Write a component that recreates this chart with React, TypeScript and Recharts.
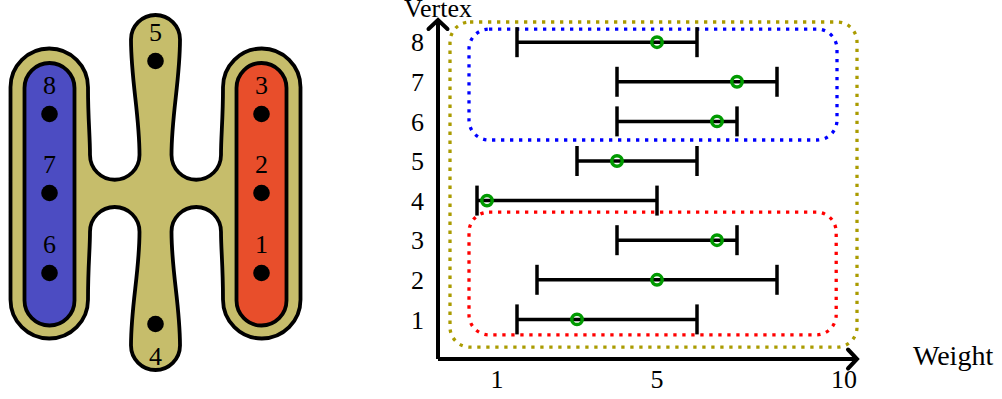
import React from 'react';
import { ScatterChart, Scatter, XAxis, YAxis, ErrorBar, ReferenceArea } from 'recharts';

// ---------- right panel data ----------
const vertices = [1, 2, 3, 4, 5, 6, 7, 8];
const weightVals = [3, 5, 6.5, 0.75, 4, 6.5, 7, 5];
const lowVals = [1.5, 2, 4, 0.5, 3, 4, 4, 1.5];
const highVals = [6, 8, 7, 5, 6, 7, 8, 6];
const xTicks = [1, 5, 10];
const yTicks = [1, 2, 3, 4, 5, 6, 7, 8];
// groups (hyperedges) drawn as dotted boxes: [xFrom, xTo, yFrom, yTo]
const groupAll = [-0.175, 10, 0.3, 8.51];
const groupBlue = [0.3, 9.5, 5.53, 8.33];
const groupRed = [0.3, 9.48, 0.61, 3.71];

// ---------- left panel (hypergraph drawing) data ----------
const vertexIds = [1, 2, 3, 4, 5, 6, 7, 8];
const vertexX = [261.5, 261.5, 261.5, 155.5, 155.5, 49.5, 49.5, 49.5];
const vertexY = [273, 193, 114, 324, 61, 273, 193, 114];

const FONT = '"Liberation Serif", "Times New Roman", serif';

const rows = vertices.map((v, i) => ({
  vertex: v,
  weight: weightVals[i],
  err: [weightVals[i] - lowVals[i], highVals[i] - weightVals[i]],
}));

const nodes = vertexIds.map((id, i) => ({ id, x: vertexX[i], y: vertexY[i] }));

const LEFT_W = 310;
const LEFT_H = 399;

const H_PATH =
  'M 10.5 87.25 A 38.75 38.75 0 0 1 88 87.25 C 88 120 90 135 90 155 ' +
  'A 24.75 24.75 0 0 0 139.5 155 C 139.5 115 131 80 131 39.5 ' +
  'A 24.5 24.5 0 0 1 180 39.5 C 180 80 171.5 115 171.5 155 ' +
  'A 24.75 24.75 0 0 0 221 155 C 221 135 223 120 223 87.25 ' +
  'A 38.75 38.75 0 0 1 300.5 87.25 L 300.5 299.75 ' +
  'A 38.75 38.75 0 0 1 223 299.75 C 223 265 221 250 221 231.75 ' +
  'A 24.75 24.75 0 0 0 171.5 231.75 C 171.5 272 180 305 180 345.5 ' +
  'A 24.5 24.5 0 0 1 131 345.5 C 131 305 139.5 272 139.5 231.75 ' +
  'A 24.75 24.75 0 0 0 90 231.75 C 90 250 88 265 88 299.75 ' +
  'A 38.75 38.75 0 0 1 10.5 299.75 Z';

const HShape = (props: any) => {
  const { x, y, width, height } = props;
  const sx = width / LEFT_W;
  const sy = height / LEFT_H;
  return (
    <g transform={`translate(${x},${y}) scale(${sx},${sy})`}>
      <path d={H_PATH} fill="#c6bd6b" stroke="#000" strokeWidth={3.8} />
    </g>
  );
};

const capsule = (fill: string) => (props: any) => {
  const { x, y, width, height } = props;
  return (
    <rect x={x} y={y} width={width} height={height} rx={width / 2} ry={width / 2}
      fill={fill} stroke="#000" strokeWidth={3.8} />
  );
};

const NodeShape = (props: any) => {
  const { cx, cy, payload } = props;
  const below = payload.id === 4;
  return (
    <g>
      <circle cx={cx} cy={cy} r={8.3} fill="#000" />
      <text x={cx} y={below ? cy + 41 : cy - 20} textAnchor="middle"
        style={{ fontFamily: FONT, fontSize: 26 }} fill="#000">
        {payload.id}
      </text>
    </g>
  );
};

const dottedBox = (color: string) => (props: any) => {
  const { x, y, width, height } = props;
  return (
    <rect x={x} y={y} width={width} height={height} rx={20} ry={20}
      fill="none" stroke={color} strokeWidth={3.3} strokeDasharray="3.3 5.7" />
  );
};

const GreenRing = (props: any) => {
  const { cx, cy } = props;
  return <circle cx={cx} cy={cy} r={5.2} fill="none" stroke="#009a00" strokeWidth={3.5} />;
};

const XTick = (props: any) => {
  const { x, y, payload } = props;
  return (
    <text x={x} y={y} dy="0.71em" textAnchor={payload.value === 10 ? 'end' : 'middle'}
      style={{ fontFamily: FONT, fontSize: 26 }} fill="#000">
      {payload.value}
    </text>
  );
};

const YTick = (props: any) => {
  const { x, y, payload } = props;
  return (
    <text x={x} y={y} dy="0.355em" textAnchor="end"
      style={{ fontFamily: FONT, fontSize: 26 }} fill="#000">
      {payload.value}
    </text>
  );
};

const VertexLabel = (props: any) => {
  const vb = props.viewBox || {};
  return (
    <text x={vb.x + vb.width} y={vb.y - 3} textAnchor="middle"
      style={{ fontFamily: FONT, fontSize: 26 }} fill="#000">Vertex</text>
  );
};

const WeightLabel = (props: any) => {
  const vb = props.viewBox || {};
  return (
    <text x={vb.x + vb.width + 56} y={vb.y + 6} textAnchor="start"
      style={{ fontFamily: FONT, fontSize: 28 }} fill="#000">Weight</text>
  );
};

const axisLineX = { stroke: '#000', strokeWidth: 4, markerEnd: 'url(#arrowhead)' };
const axisLineY = { stroke: '#000', strokeWidth: 4, markerStart: 'url(#arrowhead)' };

export default function App() {
  return (
    <div style={{ position: 'absolute', left: 0, top: 0, width: 1002, height: 399, background: '#fff' }}>
      <svg width={0} height={0} style={{ position: 'absolute' }}>
        <defs>
          <marker id="arrowhead" viewBox="-14 -14 18 28" markerWidth={18} markerHeight={28}
            refX={0} refY={0} markerUnits="userSpaceOnUse" orient="auto-start-reverse">
            <path d="M -9 -9.5 L 0 0 L -9 9.5" fill="none" stroke="#000" strokeWidth={4}
              strokeLinejoin="miter" strokeLinecap="round" />
          </marker>
        </defs>
      </svg>

      <div style={{ position: 'absolute', left: 0, top: 0 }}>
        <ScatterChart width={LEFT_W} height={LEFT_H} margin={{ top: 0, right: 0, bottom: 0, left: 0 }}>
          <XAxis type="number" dataKey="x" domain={[0, LEFT_W]} hide allowDataOverflow />
          <YAxis type="number" dataKey="y" domain={[0, LEFT_H]} reversed hide allowDataOverflow />
          <ReferenceArea x1={0} x2={LEFT_W} y1={0} y2={LEFT_H} shape={HShape} ifOverflow="visible" />
          <ReferenceArea x1={24.5} x2={74.5} y1={63} y2={325.5} shape={capsule('#4c4cc2')} ifOverflow="visible" />
          <ReferenceArea x1={236.5} x2={286.5} y1={63} y2={325.5} shape={capsule('#e84e2b')} ifOverflow="visible" />
          <Scatter data={nodes} shape={NodeShape} isAnimationActive={false} />
        </ScatterChart>
      </div>

      <div style={{ position: 'absolute', left: 380, top: 0 }}>
        <ScatterChart width={622} height={399} margin={{ top: 20, right: 145, bottom: 0, left: 0 }}>
          <XAxis type="number" dataKey="weight" domain={[-0.475, 10]} ticks={xTicks}
            allowDataOverflow height={40} tickSize={0} tickMargin={11} tickLine={false}
            axisLine={axisLineX as any} tick={XTick} interval={0}
            label={<WeightLabel />} />
          <YAxis type="number" dataKey="vertex" domain={[0, 8.56]} ticks={yTicks}
            allowDataOverflow width={58} tickSize={0} tickMargin={14} tickLine={false}
            axisLine={axisLineY as any} tick={YTick} interval={0}
            label={<VertexLabel />} />
          <ReferenceArea x1={groupAll[0]} x2={groupAll[1]} y1={groupAll[2]} y2={groupAll[3]}
            shape={dottedBox('#aa9b00')} ifOverflow="visible" />
          <ReferenceArea x1={groupBlue[0]} x2={groupBlue[1]} y1={groupBlue[2]} y2={groupBlue[3]}
            shape={dottedBox('#0000ff')} ifOverflow="visible" />
          <ReferenceArea x1={groupRed[0]} x2={groupRed[1]} y1={groupRed[2]} y2={groupRed[3]}
            shape={dottedBox('#ff0000')} ifOverflow="visible" />
          <Scatter data={rows} shape={GreenRing} isAnimationActive={false}>
            <ErrorBar dataKey="err" direction="x" width={15} stroke="#000" strokeWidth={3.5} />
          </Scatter>
        </ScatterChart>
      </div>
    </div>
  );
}
